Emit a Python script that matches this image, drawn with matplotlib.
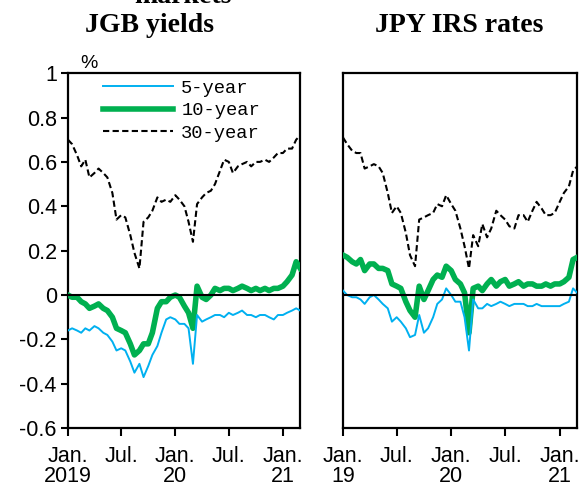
import matplotlib
matplotlib.use('Agg')
import matplotlib.pyplot as plt
import pandas as pd

# semi-monthly readings, Jan 2019 - Mar 2021
dates = pd.date_range('2019-01-01', '2021-03-01', freq='SMS')

jgb_5y = [-0.16, -0.15, -0.16, -0.17, -0.15, -0.16, -0.14, -0.15, -0.17, -0.18,
          -0.21, -0.25, -0.24, -0.25, -0.30, -0.35, -0.31, -0.37, -0.32, -0.27,
          -0.23, -0.17, -0.11, -0.10, -0.11, -0.13, -0.13, -0.15, -0.31, -0.09,
          -0.12, -0.11, -0.10, -0.09, -0.09, -0.10, -0.08, -0.09, -0.08, -0.07,
          -0.09, -0.09, -0.10, -0.09, -0.09, -0.10, -0.11, -0.09, -0.09, -0.08,
          -0.07, -0.06, -0.07]
jgb_10y = [0.00, -0.01, -0.01, -0.03, -0.04, -0.06, -0.05, -0.04, -0.06, -0.07,
           -0.10, -0.15, -0.16, -0.17, -0.22, -0.27, -0.25, -0.22, -0.22, -0.17,
           -0.06, -0.03, -0.03, -0.01, 0.00, -0.01, -0.05, -0.08, -0.15, 0.04,
           -0.01, -0.02, 0.00, 0.03, 0.02, 0.03, 0.03, 0.02, 0.03, 0.04,
           0.03, 0.02, 0.03, 0.02, 0.03, 0.02, 0.03, 0.03, 0.04, 0.06,
           0.09, 0.15, 0.12]
jgb_30y = [0.70, 0.68, 0.63, 0.58, 0.61, 0.53, 0.55, 0.57, 0.55, 0.53,
           0.46, 0.34, 0.36, 0.35, 0.27, 0.19, 0.12, 0.33, 0.35, 0.38,
           0.44, 0.42, 0.43, 0.42, 0.45, 0.43, 0.40, 0.33, 0.24, 0.41,
           0.44, 0.46, 0.47, 0.50, 0.56, 0.61, 0.60, 0.55, 0.58, 0.59,
           0.60, 0.58, 0.60, 0.60, 0.61, 0.60, 0.62, 0.64, 0.64, 0.66,
           0.66, 0.70, 0.72]

irs_5y = [0.02, 0.00, -0.01, -0.01, -0.02, -0.04, -0.01, 0.00, -0.02, -0.04,
          -0.06, -0.12, -0.10, -0.12, -0.15, -0.19, -0.18, -0.09, -0.17, -0.15,
          -0.10, -0.04, -0.02, 0.03, 0.00, -0.03, -0.03, -0.10, -0.25, -0.02,
          -0.06, -0.06, -0.04, -0.05, -0.04, -0.03, -0.04, -0.05, -0.04, -0.04,
          -0.04, -0.05, -0.05, -0.04, -0.05, -0.05, -0.05, -0.05, -0.05, -0.04,
          -0.03, 0.03, 0.01]
irs_10y = [0.18, 0.17, 0.15, 0.14, 0.16, 0.11, 0.14, 0.14, 0.12, 0.12,
           0.11, 0.05, 0.04, 0.03, -0.03, -0.07, -0.10, 0.04, -0.02, 0.02,
           0.07, 0.09, 0.08, 0.13, 0.11, 0.07, 0.05, 0.01, -0.17, 0.03,
           0.04, 0.02, 0.05, 0.07, 0.04, 0.06, 0.07, 0.04, 0.05, 0.06,
           0.04, 0.05, 0.05, 0.04, 0.04, 0.05, 0.04, 0.05, 0.05, 0.06,
           0.08, 0.16, 0.17]
irs_30y = [0.71, 0.68, 0.65, 0.64, 0.64, 0.57, 0.58, 0.59, 0.58, 0.55,
           0.46, 0.37, 0.40, 0.37, 0.28, 0.18, 0.13, 0.34, 0.35, 0.36,
           0.37, 0.41, 0.40, 0.45, 0.41, 0.38, 0.30, 0.22, 0.12, 0.27,
           0.22, 0.32, 0.26, 0.30, 0.38, 0.36, 0.34, 0.31, 0.30, 0.36,
           0.36, 0.33, 0.38, 0.42, 0.39, 0.36, 0.36, 0.37, 0.42, 0.46,
           0.49, 0.56, 0.58]

tick_dates = pd.to_datetime(['2019-01-01', '2019-07-01', '2020-01-01',
                             '2020-07-01', '2021-01-01'])
left_ticklabels = ['Jan.\n2019', 'Jul.', 'Jan.\n20', 'Jul.', 'Jan.\n21']
right_ticklabels = ['Jan.\n19', 'Jul.', 'Jan.\n20', 'Jul.', 'Jan.\n21']

BLUE = '#00B0F0'
GREEN = '#00B050'
plt.rcParams['font.family'] = ['Liberation Sans', 'DejaVu Sans']

fig = plt.figure(figsize=(5.79, 4.91), dpi=100)
ax1 = fig.add_axes([0.1174, 0.128, 0.4007, 0.723])
ax2 = fig.add_axes([0.5924, 0.128, 0.404, 0.723])


def draw_panel(ax, s5, s10, s30, labels):
    ax.plot(dates, s30, color='black', lw=1.5, ls=(0, (3, 1.6)), label='30-year', zorder=2)
    ax.plot(dates, s10, color=GREEN, lw=4, label='10-year', zorder=3)
    ax.plot(dates, s5, color=BLUE, lw=1.4, label='5-year', zorder=4)
    ax.axhline(0, color='black', lw=1.5, zorder=5)
    ax.set_ylim(-0.6, 1.0)
    ax.set_xlim(pd.Timestamp('2019-01-01'), pd.Timestamp('2021-02-28'))
    ax.set_xticks(tick_dates)
    ax.set_xticklabels(labels, fontsize=15.5, linespacing=0.95)
    ax.tick_params(axis='x', direction='out', length=6, width=1.5, pad=7)
    for sp in ax.spines.values():
        sp.set_linewidth(1.6)


draw_panel(ax1, jgb_5y, jgb_10y, jgb_30y, left_ticklabels)
draw_panel(ax2, irs_5y, irs_10y, irs_30y, right_ticklabels)

ax1.set_yticks([-0.6, -0.4, -0.2, 0, 0.2, 0.4, 0.6, 0.8, 1.0])
ax1.set_yticklabels(['-0.6', '-0.4', '-0.2', '0', '0.2', '0.4', '0.6', '0.8', '1'], fontsize=15.5)
ax1.tick_params(axis='y', direction='out', length=5, width=1.5, pad=3)
ax2.set_yticks([])

handles, names = ax1.get_legend_handles_labels()
ax1.legend(handles[::-1], names[::-1], loc='upper left', bbox_to_anchor=(0.08, 1.03),
           frameon=False, handlelength=3.7, labelspacing=0.3, handletextpad=0.45,
           prop={'family': 'Liberation Mono', 'size': 13.5})

fig.text(0.138, 0.862, '%', fontsize=14)
fig.text(0.259, 0.949, 'JGB yields', fontsize=20, fontweight='bold',
         family='Liberation Serif', ha='center', va='center')
fig.text(0.793, 0.949, 'JPY IRS rates', fontsize=20, fontweight='bold',
         family='Liberation Serif', ha='center', va='center')
# remnant of the panel group heading, cut at the top edge as in the source
fig.text(0.316, 0.993, 'markets', fontsize=20, fontweight='bold',
         family='Liberation Serif', ha='center', va='baseline')

fig.savefig('out.png', dpi=100)
